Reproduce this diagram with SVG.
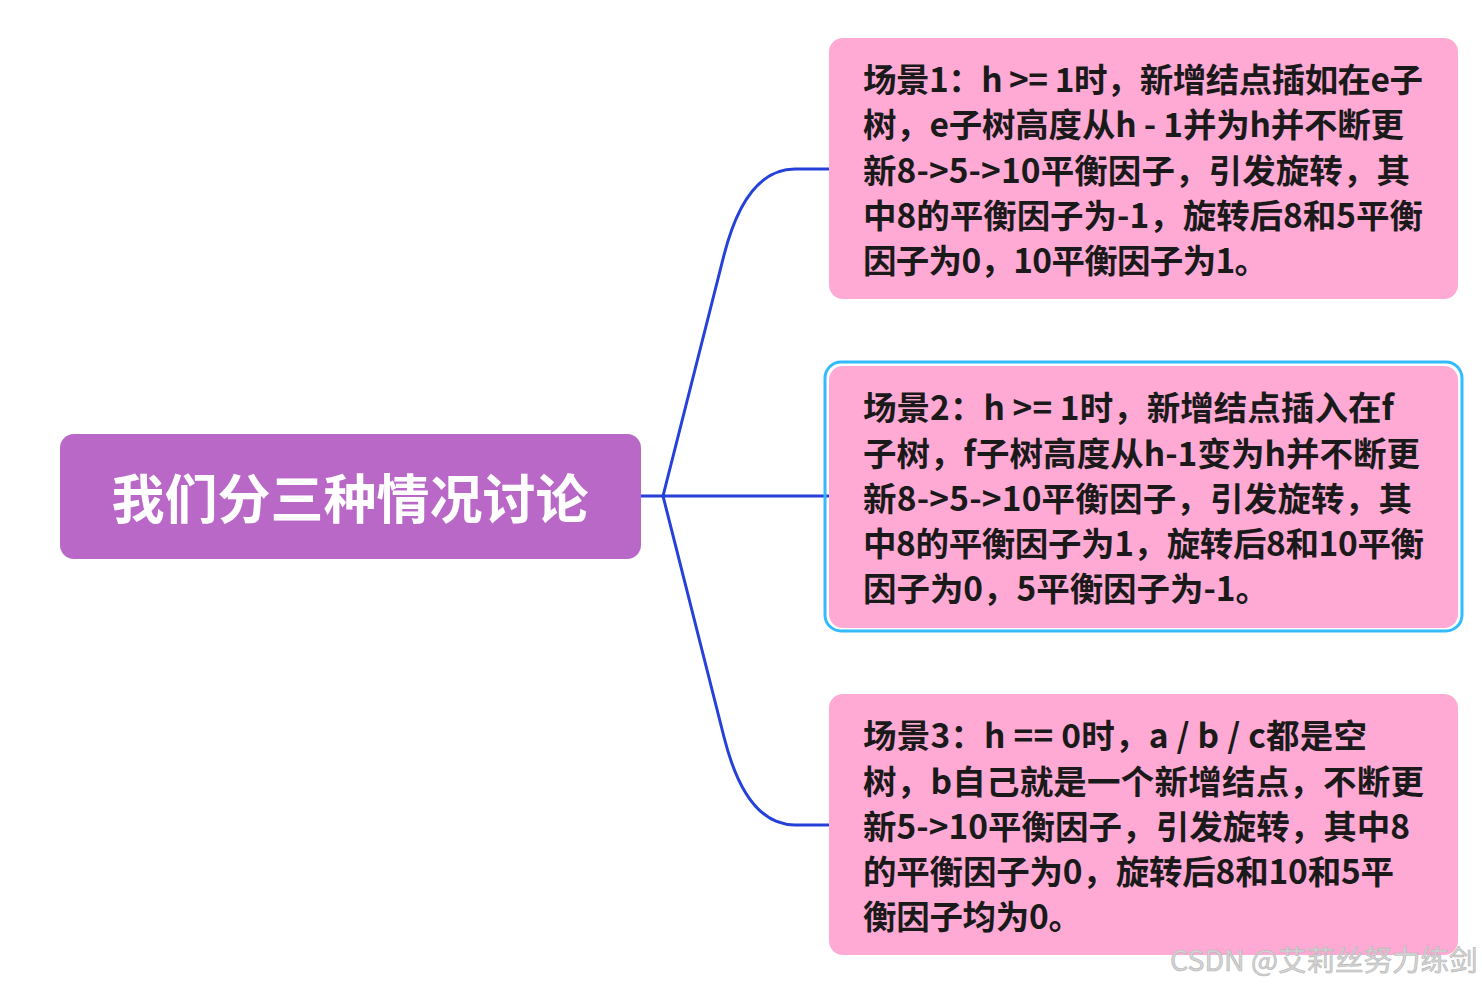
<svg xmlns="http://www.w3.org/2000/svg" width="1482" height="987" viewBox="0 0 1482 987">
<style>
.bg{fill:#ffffff}
.root{fill:#BA68C8}
.rootText{fill:#ffffff;font-family:"Noto Sans CJK SC","Noto Sans",sans-serif;font-weight:700;font-size:53px}
.card{fill:#FFAAD5}
.sel{fill:none;stroke:#33BBFF;stroke-width:3}
.txt{fill:#1a1a1a;font-family:"Noto Sans CJK SC","Noto Sans",sans-serif;font-weight:700;font-size:33.5px}
.conn{fill:none;stroke:#2541D9;stroke-width:3;stroke-linecap:butt}
.wm{fill:#d4d4d4;stroke:#b5b5b5;stroke-width:0.6;font-family:"Noto Sans CJK SC","Noto Sans",sans-serif;font-size:28.5px}
</style>
<rect class="bg" x="0" y="0" width="1482" height="987"/>
<g id="connectors">
<path class="conn" d="M641 496 H663"/>
<path class="conn" d="M663 496 L724 255 Q746 169 795 169 H829"/>
<path class="conn" d="M663 496 H829"/>
<path class="conn" d="M663 496 L724 737 Q746 825 795 825 H829"/>
</g>
<g id="root">
<rect class="root" x="60" y="434" width="581" height="125" rx="14"/>
<text class="rootText" x="350" y="519" text-anchor="middle">我们分三种情况讨论</text>
</g>
<g id="scene1">
<rect class="card" x="829" y="38" width="629" height="261" rx="14"/>
<text class="txt">
<tspan x="863" y="92" textLength="560" lengthAdjust="spacing">场景1：h &gt;= 1时，新增结点插如在e子</tspan>
<tspan x="863" y="137" textLength="541" lengthAdjust="spacing">树，e子树高度从h - 1并为h并不断更</tspan>
<tspan x="863" y="183" textLength="547" lengthAdjust="spacing">新8-&gt;5-&gt;10平衡因子，引发旋转，其</tspan>
<tspan x="863" y="228" textLength="560" lengthAdjust="spacing">中8的平衡因子为-1，旋转后8和5平衡</tspan>
<tspan x="863" y="273" textLength="405" lengthAdjust="spacing">因子为0，10平衡因子为1。</tspan>
</text>
</g>
<g id="scene2">
<rect class="sel" x="825" y="362" width="637" height="269" rx="16"/>
<rect class="card" x="829" y="366" width="629" height="262" rx="14"/>
<text class="txt">
<tspan x="863" y="420" textLength="531" lengthAdjust="spacing">场景2：h &gt;= 1时，新增结点插入在f</tspan>
<tspan x="863" y="466" textLength="557" lengthAdjust="spacing">子树，f子树高度从h-1变为h并不断更</tspan>
<tspan x="863" y="511" textLength="549" lengthAdjust="spacing">新8-&gt;5-&gt;10平衡因子，引发旋转，其</tspan>
<tspan x="863" y="556" textLength="561" lengthAdjust="spacing">中8的平衡因子为1，旋转后8和10平衡</tspan>
<tspan x="863" y="601" textLength="406" lengthAdjust="spacing">因子为0，5平衡因子为-1。</tspan>
</text>
</g>
<g id="scene3">
<rect class="card" x="829" y="694" width="629" height="261" rx="14"/>
<text class="txt">
<tspan x="863" y="748" textLength="504" lengthAdjust="spacing">场景3：h == 0时，a / b / c都是空</tspan>
<tspan x="863" y="794" textLength="561" lengthAdjust="spacing">树，b自己就是一个新增结点，不断更</tspan>
<tspan x="863" y="839" textLength="547" lengthAdjust="spacing">新5-&gt;10平衡因子，引发旋转，其中8</tspan>
<tspan x="863" y="884" textLength="531" lengthAdjust="spacing">的平衡因子为0，旋转后8和10和5平</tspan>
<tspan x="863" y="929" textLength="219" lengthAdjust="spacing">衡因子均为0。</tspan>
</text>
</g>
<text class="wm" x="1170" y="971">CSDN @艾莉丝努力练剑</text>
</svg>
